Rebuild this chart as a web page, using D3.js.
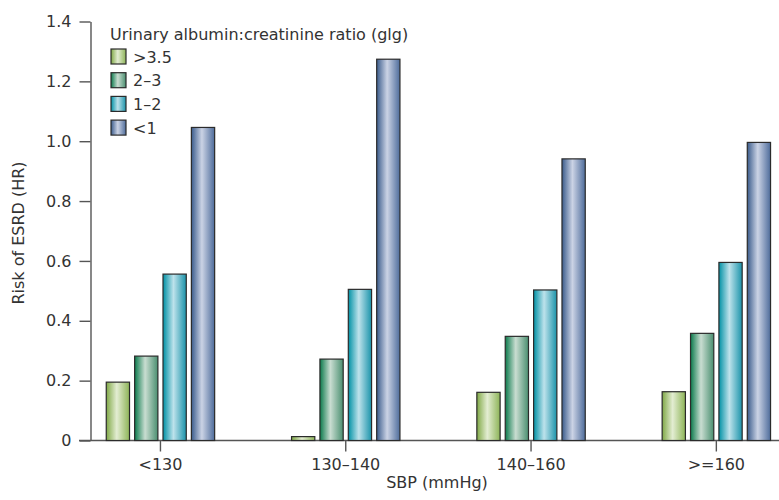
<!DOCTYPE html>
<html>
<head>
<meta charset="utf-8">
<script src="https://cdn.jsdelivr.net/npm/d3@7"></script>
<style>
  body { margin: 0; background: #fff; }
  text { font-family: "DejaVu Sans", sans-serif; fill: #333; }
</style>
</head>
<body>
<svg id="chart" width="779" height="500"></svg>
<script>
// Data
const categories = ["<130", "130\u2013140", "140\u2013160", ">=160"];
const seriesNames = [">3.5", "2\u20133", "1\u20132", "<1"];
const ratioAbove35 = [0.195, 0.013, 0.161, 0.163];
const ratio2to3 = [0.282, 0.272, 0.348, 0.358];
const ratio1to2 = [0.556, 0.505, 0.503, 0.595];
const ratioBelow1 = [1.046, 1.274, 0.941, 0.996];
const yTicks = [0, 0.2, 0.4, 0.6, 0.8, 1.0, 1.2, 1.4];

const seriesValues = [ratioAbove35, ratio2to3, ratio1to2, ratioBelow1];

// colours: left edge, highlight, right edge
const palette = [
  ["#7fa845", "#e3edd2", "#8db457"],
  ["#0b7a4c", "#c9ddd1", "#4a8f70"],
  ["#0091a5", "#bde2eb", "#1a93aa"],
  ["#3a5b8b", "#cbd3e5", "#4e6c9b"]
];

const fontSize = "16px";
const svg = d3.select("#chart");

// gradients for the shaded bars
let defs = svg.append("defs");
palette.forEach((c, i) => {
  let g = defs.append("linearGradient")
    .attr("id", "grad" + i)
    .attr("x1", "0%").attr("x2", "100%")
    .attr("y1", "0%").attr("y2", "0%");
  g.append("stop").attr("offset", "0%").attr("stop-color", c[0]);
  g.append("stop").attr("offset", "45%").attr("stop-color", c[1]);
  g.append("stop").attr("offset", "100%").attr("stop-color", c[2]);
});

// Scales
let x = d3.scaleBand()
  .domain(categories)
  .range([67.8, 809])
  .padding(0);

let inner = d3.scaleBand()
  .domain(d3.range(seriesNames.length))
  .range([-54.2, 54.2])
  .paddingInner(0.18)
  .paddingOuter(0);

let y = d3.scaleLinear()
  .domain([0, 1.4])
  .range([440.5, 21.5]);

const axisX0 = 90.5;

// Y axis
let yAxis = svg.append("g")
  .attr("transform", `translate(${axisX0},0)`)
  .call(d3.axisLeft(y)
    .tickValues(yTicks)
    .tickSize(11)
    .tickSizeOuter(0)
    .tickPadding(8)
    .tickFormat(d => d === 0 ? "0" : d3.format(".1f")(d)));
yAxis.select(".domain").attr("stroke", "#555").attr("stroke-width", 1.4);
yAxis.selectAll(".tick line").attr("stroke", "#555").attr("stroke-width", 1.4);
yAxis.selectAll(".tick text")
  .style("font-size", fontSize)
  .attr("fill", "#333");

// X axis
let xAxis = svg.append("g")
  .attr("transform", `translate(0,${y(0)})`)
  .call(d3.axisBottom(x)
    .tickSize(11)
    .tickSizeOuter(0)
    .tickPadding(7));
xAxis.select(".domain")
  .attr("d", `M79,0H779`)
  .attr("stroke", "#555").attr("stroke-width", 1.4);
xAxis.selectAll(".tick line").attr("stroke", "#555").attr("stroke-width", 1.4);
xAxis.selectAll(".tick text")
  .style("font-size", fontSize)
  .attr("fill", "#333");

// Bars
let groups = svg.append("g")
  .selectAll("g")
  .data(categories)
  .join("g")
    .attr("transform", d => `translate(${x(d) + x.bandwidth() / 2},0)`);

groups.selectAll("rect")
  .data((d, ci) => seriesValues.map((vals, si) => ({ si: si, value: vals[ci] })))
  .join("rect")
    .attr("x", d => inner(d.si))
    .attr("y", d => y(d.value))
    .attr("width", inner.bandwidth())
    .attr("height", d => y(0) - y(d.value))
    .attr("fill", d => `url(#grad${d.si})`)
    .attr("stroke", "#2b2b2b")
    .attr("stroke-width", 1.2);

// Legend
let legend = svg.append("g").attr("transform", "translate(110,0)");
legend.append("text")
  .attr("x", 0)
  .attr("y", 40)
  .style("font-size", fontSize)
  .text("Urinary albumin:creatinine ratio (glg)");

let item = legend.selectAll("g.item")
  .data(seriesNames)
  .join("g")
    .attr("class", "item")
    .attr("transform", (d, i) => `translate(1,${49 + i * 23.7})`);

item.append("rect")
  .attr("width", 15)
  .attr("height", 15)
  .attr("fill", (d, i) => `url(#grad${i})`)
  .attr("stroke", "#2b2b2b")
  .attr("stroke-width", 1.2);

item.append("text")
  .attr("x", 22)
  .attr("y", 13.5)
  .style("font-size", fontSize)
  .text(d => d);

// Axis titles
svg.append("text")
  .attr("x", 437)
  .attr("y", 488)
  .attr("text-anchor", "middle")
  .style("font-size", fontSize)
  .text("SBP (mmHg)");

svg.append("text")
  .attr("transform", "translate(24,233) rotate(-90)")
  .attr("text-anchor", "middle")
  .style("font-size", fontSize)
  .text("Risk of ESRD (HR)");
</script>
</body>
</html>
